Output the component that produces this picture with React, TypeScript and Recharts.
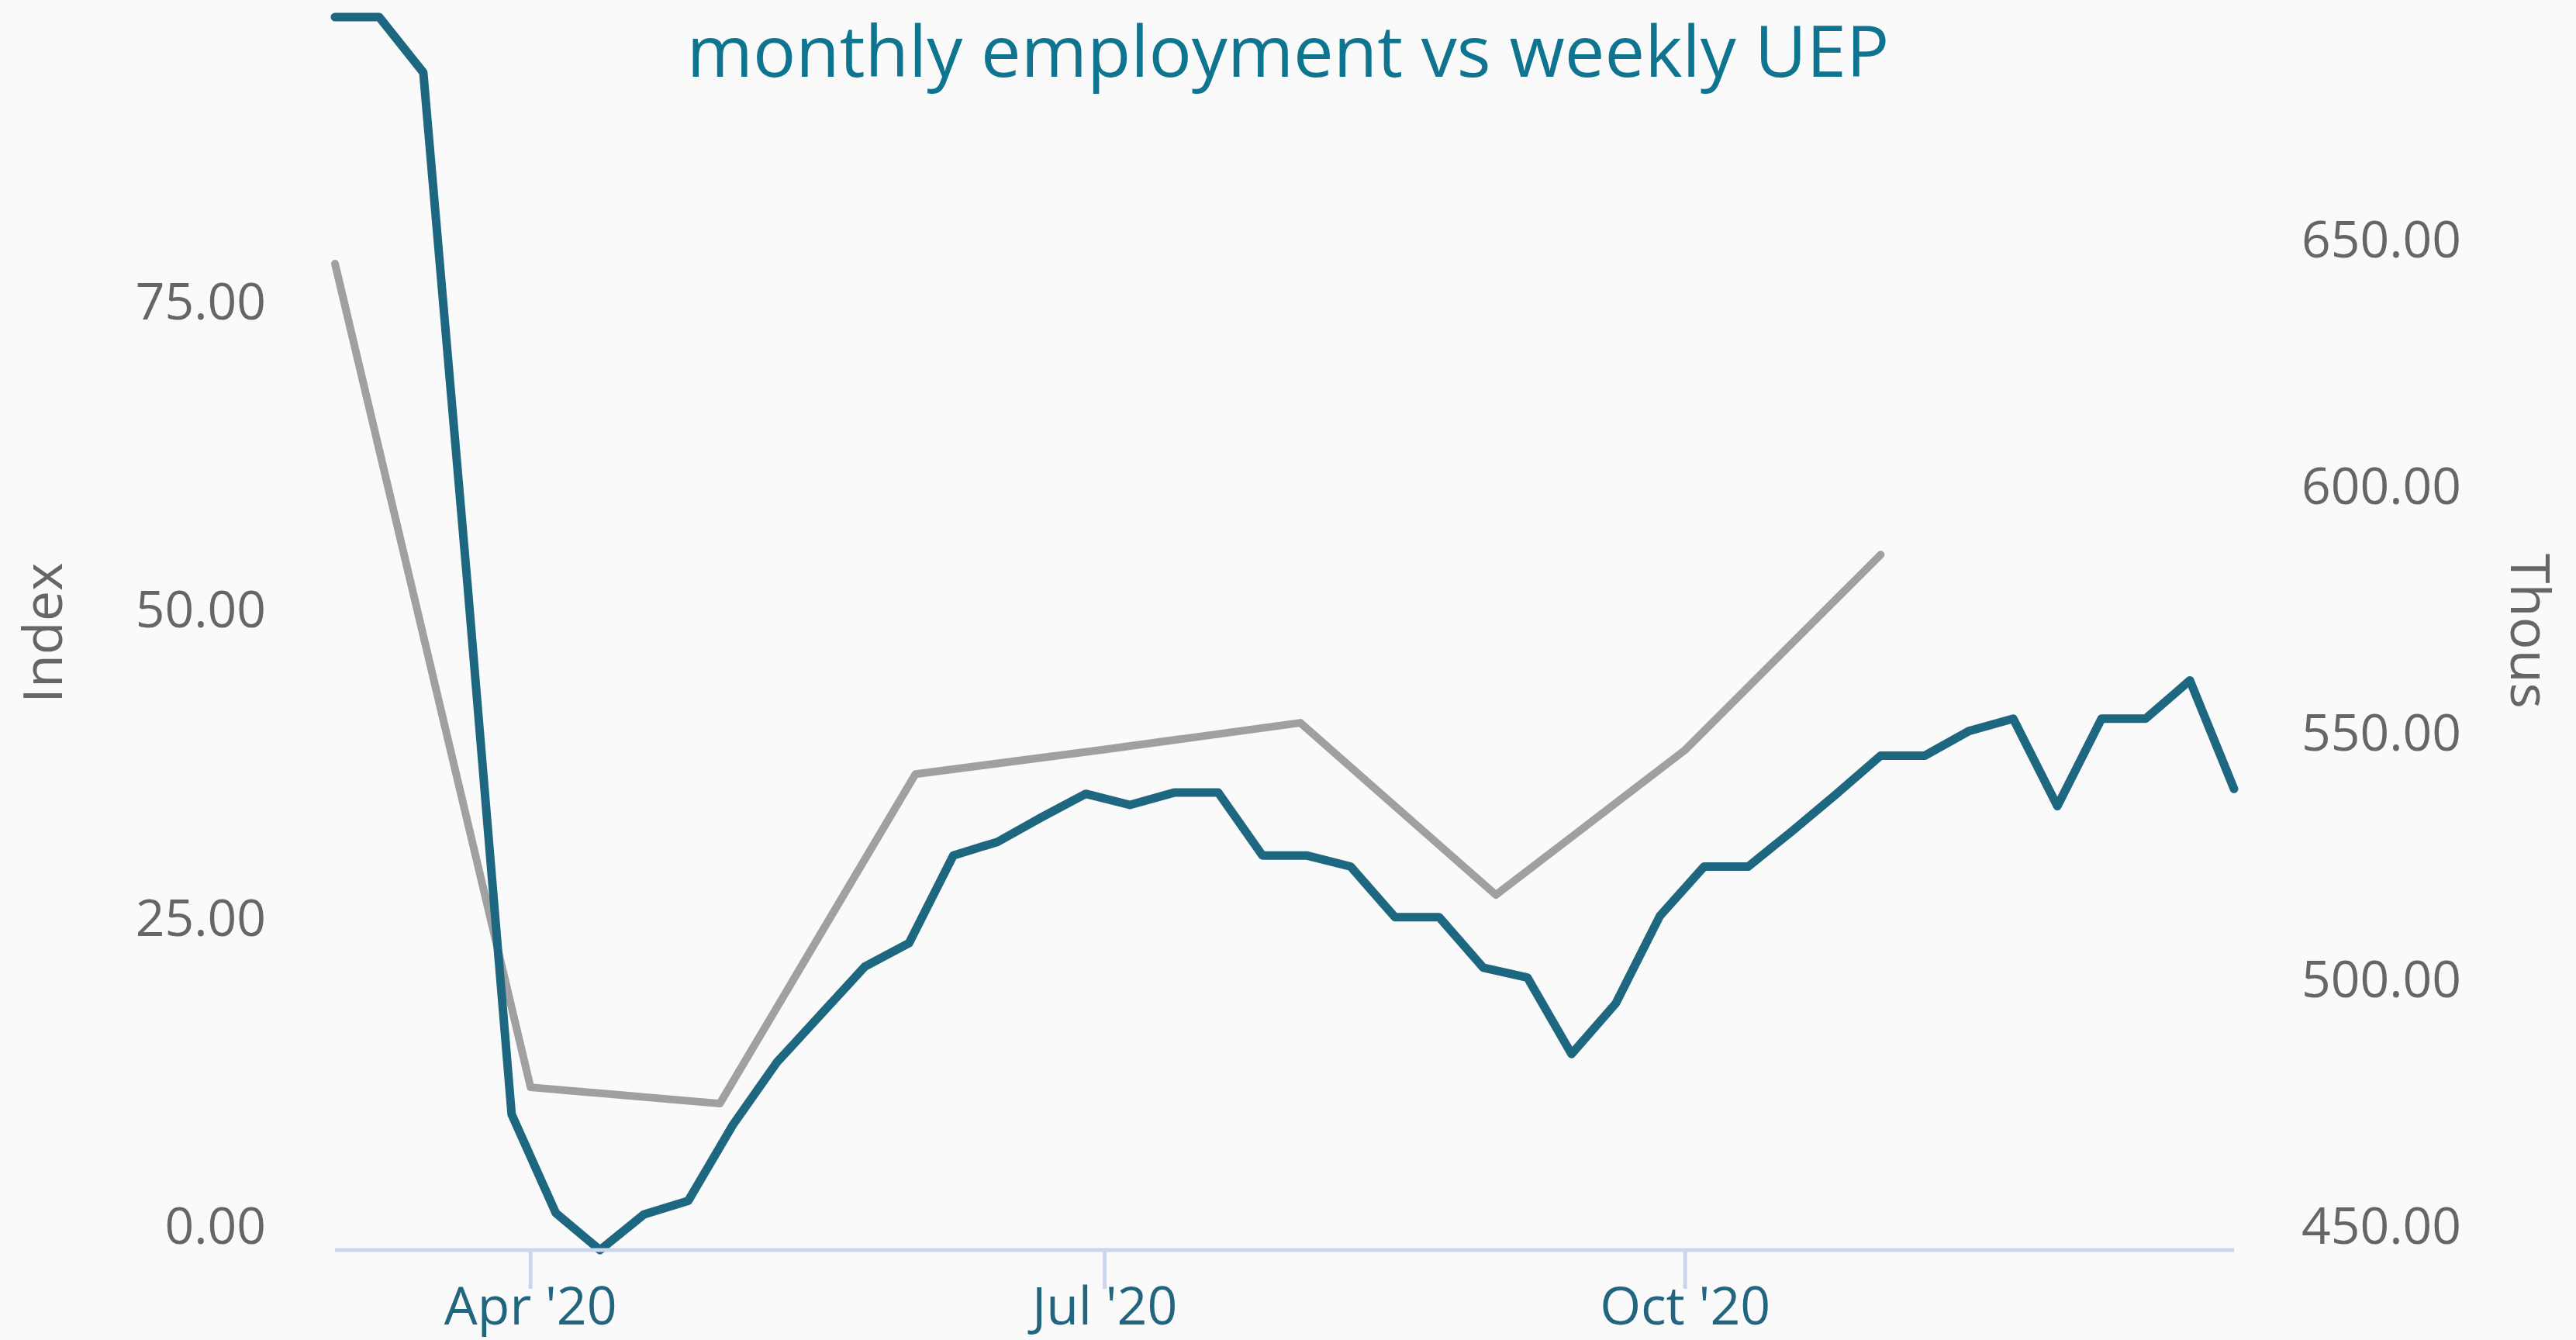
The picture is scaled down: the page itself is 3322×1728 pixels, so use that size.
import React from 'react';
import { LineChart, Line, XAxis, YAxis } from 'recharts';

// weekly UEP index (left axis)
const weekDates = [
  '2020-03-01', '2020-03-08', '2020-03-15', '2020-03-22', '2020-03-29',
  '2020-04-05', '2020-04-12', '2020-04-19', '2020-04-26',
  '2020-05-03', '2020-05-10', '2020-05-17', '2020-05-24', '2020-05-31',
  '2020-06-07', '2020-06-14', '2020-06-21', '2020-06-28',
  '2020-07-05', '2020-07-12', '2020-07-19', '2020-07-26',
  '2020-08-02', '2020-08-09', '2020-08-16', '2020-08-23', '2020-08-30',
  '2020-09-06', '2020-09-13', '2020-09-20', '2020-09-27',
  '2020-10-04', '2020-10-11', '2020-10-18', '2020-10-25',
  '2020-11-01', '2020-11-08', '2020-11-15', '2020-11-22', '2020-11-29',
  '2020-12-06', '2020-12-13', '2020-12-20', '2020-12-27',
];
const uepIndex = [
  100, 100, 95.5, 54, 11.0,
  3.0, 0, 2.9, 4.0,
  10.1, 15.2, 19.1, 23.0, 24.9,
  32.0, 33.1, 35.1, 37.0,
  36.1, 37.1, 37.1, 32.0,
  32.0, 31.1, 27.0, 27.0, 22.9,
  22.1, 15.9, 20.0, 27.1,
  31.1, 31.1, 34.0, 37.0,
  40.1, 40.1, 42.1, 43.1, 36.0,
  43.1, 43.1, 46.2, 37.4,
];

// monthly employment, thousands (right axis)
const monthDates = [
  '2020-03-01', '2020-04-01', '2020-05-01', '2020-06-01', '2020-07-01',
  '2020-08-01', '2020-09-01', '2020-10-01', '2020-11-01',
];
const employmentThous = [650, 483, 479.7, 546.5, 551.5, 556.9, 522, 551.4, 591];

const xTickDates = ['2020-04-01', '2020-07-01', '2020-10-01'];
const indexTicks = [0, 25, 50, 75];
const thousTicks = [450, 500, 550, 600, 650];
const monthNames = ['Jan', 'Feb', 'Mar', 'Apr', 'May', 'Jun', 'Jul', 'Aug', 'Sep', 'Oct', 'Nov', 'Dec'];

const uepData = weekDates.map((d, i) => ({ t: Date.parse(d), uep: uepIndex[i] }));
const empData = monthDates.map((d, i) => ({ t: Date.parse(d), emp: employmentThous[i] }));
const xTicks = xTickDates.map((d) => Date.parse(d));

const FONT = '"Open Sans", "DejaVu Sans", sans-serif';
const W = 3322;
const H = 1728;

const formatMonth = (t: number) => {
  const d = new Date(t);
  return `${monthNames[d.getUTCMonth()]} '${String(d.getUTCFullYear()).slice(2)}`;
};

const LeftTick = (props: any) => (
  <text
    x={props.x}
    y={props.y}
    dx={-89}
    dy={-34}
    textAnchor="end"
    dominantBaseline="central"
    fill="#666666"
    fontSize={66}
    fontFamily={FONT}
  >
    {Number(props.payload.value).toFixed(2)}
  </text>
);

const RightTick = (props: any) => (
  <text
    x={props.x}
    y={props.y}
    dx={87}
    dy={-34}
    textAnchor="start"
    dominantBaseline="central"
    fill="#666666"
    fontSize={66}
    fontFamily={FONT}
  >
    {Number(props.payload.value).toFixed(2)}
  </text>
);

const BottomTick = (props: any) => (
  <text
    x={props.x}
    y={props.y}
    dy={46}
    textAnchor="middle"
    fill="#21657e"
    fontSize={68}
    fontFamily={FONT}
  >
    {formatMonth(props.payload.value)}
  </text>
);

export default function App() {
  return (
    <div style={{ position: 'absolute', left: 0, top: 0, width: W, height: H, background: '#fafafa' }}>
      <LineChart width={W} height={H} margin={{ top: 22, right: 141, bottom: 16, left: 132 }}>
        <XAxis
          dataKey="t"
          type="number"
          domain={[Date.parse('2020-03-01'), Date.parse('2020-12-27')]}
          ticks={xTicks}
          height={100}
          tickSize={50}
          tickMargin={0}
          axisLine={{ stroke: '#ccd6eb', strokeWidth: 5 }}
          tickLine={{ stroke: '#ccd6eb', strokeWidth: 5 }}
          tick={<BottomTick />}
        />
        <YAxis
          yAxisId="index"
          orientation="left"
          width={300}
          domain={[0, 100]}
          ticks={indexTicks}
          axisLine={false}
          tickLine={false}
          tickSize={0}
          tickMargin={0}
          tick={<LeftTick />}
        />
        <YAxis
          yAxisId="thous"
          orientation="right"
          width={300}
          domain={[450, 700]}
          ticks={thousTicks}
          axisLine={false}
          tickLine={false}
          tickSize={0}
          tickMargin={0}
          tick={<RightTick />}
        />
        <Line
          yAxisId="thous"
          data={empData}
          dataKey="emp"
          type="linear"
          stroke="#a0a0a0"
          strokeWidth={10}
          strokeLinecap="round"
          strokeLinejoin="round"
          dot={false}
          activeDot={false}
          isAnimationActive={false}
        />
        <Line
          yAxisId="index"
          data={uepData}
          dataKey="uep"
          type="linear"
          stroke="#1e6781"
          strokeWidth={11}
          strokeLinecap="round"
          strokeLinejoin="round"
          dot={false}
          activeDot={false}
          isAnimationActive={false}
        />
      </LineChart>
      <svg
        width={W}
        height={H}
        style={{ position: 'absolute', left: 0, top: 0, pointerEvents: 'none' }}
      >
        <text x={1661} y={99} textAnchor="middle" fill="#0f7490" fontSize={92} fontFamily={FONT}>
          monthly employment vs weekly UEP
        </text>
        <text
          x={53}
          y={816}
          transform="rotate(-90 53 816)"
          textAnchor="middle"
          dominantBaseline="central"
          fill="#666666"
          fontSize={70}
          fontFamily={FONT}
        >
          Index
        </text>
        <text
          x={3265}
          y={814}
          transform="rotate(90 3265 814)"
          textAnchor="middle"
          dominantBaseline="central"
          fill="#666666"
          fontSize={70}
          fontFamily={FONT}
        >
          Thous
        </text>
      </svg>
    </div>
  );
}
